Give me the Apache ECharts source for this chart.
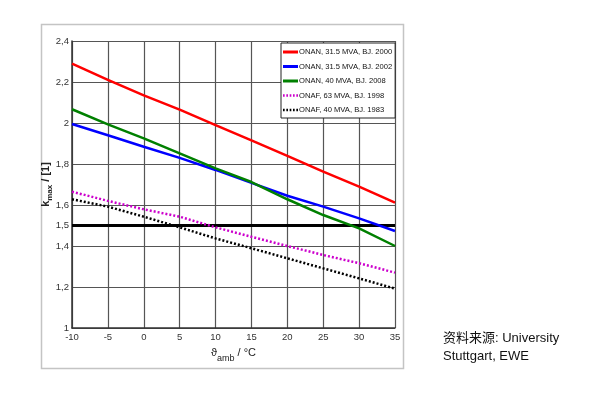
<!DOCTYPE html>
<html><head><meta charset="utf-8">
<script src="https://cdn.jsdelivr.net/npm/echarts@6/dist/echarts.min.js"></script>
<style>html,body{margin:0;padding:0;background:#fff}#c{width:600px;height:402px}</style>
</head><body><div id="c"></div>
<script>
const temps = [-10, -5, 0, 5, 10, 15, 20, 25, 30, 35];
const onan315_2000 = [2.29, 2.21, 2.135, 2.065, 1.99, 1.915, 1.84, 1.763, 1.69, 1.612];
const onan315_2002 = [1.995, 1.94, 1.884, 1.83, 1.771, 1.708, 1.645, 1.592, 1.535, 1.473];
const onan40_2008 = [2.067, 1.993, 1.925, 1.852, 1.779, 1.712, 1.628, 1.551, 1.486, 1.4];
const onaf63_1998 = [1.665, 1.62, 1.579, 1.543, 1.491, 1.445, 1.4, 1.356, 1.316, 1.27];
const onaf40_1983 = [1.628, 1.592, 1.543, 1.491, 1.437, 1.389, 1.34, 1.291, 1.242, 1.192];
const limitLevel = [1.5, 1.5, 1.5, 1.5, 1.5, 1.5, 1.5, 1.5, 1.5, 1.5];
const seriesNames = ['ONAN, 31.5 MVA, BJ. 2000', 'ONAN, 31.5 MVA, BJ. 2002', 'ONAN, 40 MVA, BJ. 2008', 'ONAF, 63 MVA, BJ. 1998', 'ONAF, 40 MVA, BJ. 1983'];
const yTickLabels = [1, 1.2, 1.4, 1.5, 1.6, 1.8, 2, 2.2, 2.4];
const xTickLabels = [-10, -5, 0, 5, 10, 15, 20, 25, 30, 35];

const pair = arr => temps.map((t, i) => [t, arr[i]]);
const tickFont = 'Liberation Sans Narrow, Liberation Sans, Arial';
const dotIcon = 'path://M0,0h2v3h-2z M4,0h2v3h-2z M8,0h2v3h-2z M12,0h2v3h-2z M16,0h2v3h-2z';
const chart = echarts.init(document.getElementById('c'), null, {renderer: 'canvas'});
function mk(name, data, color, type) {
  return {name, type: 'line', data: pair(data), symbol: 'none', smooth: false,
    lineStyle: {color, width: 2.5, type: type}, itemStyle: {color}, yAxisIndex: 0, z: 3};
}
chart.setOption({
  animation: false,
  grid: {left: 72, top: 41, width: 323, height: 287, show: false},
  graphic: [
    {type: 'rect', shape: {x: 41.5, y: 24.5, width: 362, height: 344}, style: {fill: 'none', stroke: '#c4c4c4', lineWidth: 1.5}, z: -10},
    {type: 'text', left: 443, top: 329, style: {text: '资料来源: University\nStuttgart, EWE', fontSize: 13, lineHeight: 18, fill: '#111', fontFamily: 'Liberation Sans, Arial, Noto Sans CJK SC'}}
  ],
  legend: {
    data: [
      {name: seriesNames[0], icon: 'rect'},
      {name: seriesNames[1], icon: 'rect'},
      {name: seriesNames[2], icon: 'rect'},
      {name: seriesNames[3], icon: dotIcon},
      {name: seriesNames[4], icon: dotIcon}
    ],
    orient: 'vertical', left: 281, top: 43,
    backgroundColor: '#fff', borderColor: '#222', borderWidth: 1, borderRadius: 0,
    padding: [4, 3, 3, 2], itemWidth: 15, itemHeight: 3, itemGap: 4.5,
    textStyle: {fontSize: 7.6, lineHeight: 10, fontFamily: tickFont, color: '#111', padding: [0, 0, 0, -4]}
  },
  xAxis: {
    type: 'value', min: -10, max: 35, interval: 5,
    name: '{a|ϑ}{s|amb}{a| / °C}', nameLocation: 'middle', nameGap: 19, nameMoveOverlap: false,
    nameTextStyle: {rich: {
      a: {fontSize: 11, color: '#222', fontFamily: 'Liberation Sans, Arial', lineHeight: 16, verticalAlign: 'top'},
      s: {fontSize: 9, color: '#222', fontFamily: 'Liberation Sans, Arial', lineHeight: 16, verticalAlign: 'bottom', padding: [6, 0, 0, 0]}
    }},
    axisLine: {lineStyle: {color: '#333', width: 1.5}}, axisTick: {show: false},
    axisLabel: {fontSize: 9.5, color: '#333', fontFamily: tickFont, margin: 4,
      formatter: v => xTickLabels.includes(v) ? String(v) : ''},
    splitLine: {show: true, lineStyle: {color: '#555', width: 1.2}}
  },
  yAxis: [
    {type: 'value', min: 1, max: 2.4, interval: 0.1,
      name: '{k|k}{s|max}{k| / [1]}', nameLocation: 'middle', nameGap: 18, nameRotate: 90, nameMoveOverlap: false,
      nameTextStyle: {rich: {
        k: {fontSize: 11, fontWeight: 'bold', color: '#222', fontFamily: 'Liberation Sans, Arial', lineHeight: 14, verticalAlign: 'top'},
        s: {fontSize: 8, fontWeight: 'bold', color: '#222', fontFamily: 'Liberation Sans, Arial', lineHeight: 14, verticalAlign: 'bottom', padding: [4, 0, 0, 0]}
      }},
      axisLine: {show: true, onZero: false, lineStyle: {color: '#333', width: 1.5}}, axisTick: {show: false},
      axisLabel: {fontSize: 9.5, color: '#333', fontFamily: tickFont, margin: 3,
        formatter: v => { const r = Math.round(v * 10) / 10; return yTickLabels.includes(r) ? String(r).replace('.', ',') : ''; }},
      splitLine: {show: false}},
    {type: 'value', min: 1, max: 2.4, interval: 0.2, position: 'left',
      axisLine: {show: false}, axisTick: {show: false}, axisLabel: {show: false},
      splitLine: {show: true, lineStyle: {color: '#555', width: 1.2}}}
  ],
  series: [
    mk(seriesNames[0], onan315_2000, '#ff0000', 'solid'),
    mk(seriesNames[1], onan315_2002, '#0000ff', 'solid'),
    mk(seriesNames[2], onan40_2008, '#008000', 'solid'),
    mk(seriesNames[3], onaf63_1998, '#cc00cc', [2, 2]),
    mk(seriesNames[4], onaf40_1983, '#000000', [2, 2]),
    {name: 'limit', type: 'line', data: pair(limitLevel), symbol: 'none', lineStyle: {color: '#000', width: 3}, z: 2}
  ]
});
</script></body></html>
